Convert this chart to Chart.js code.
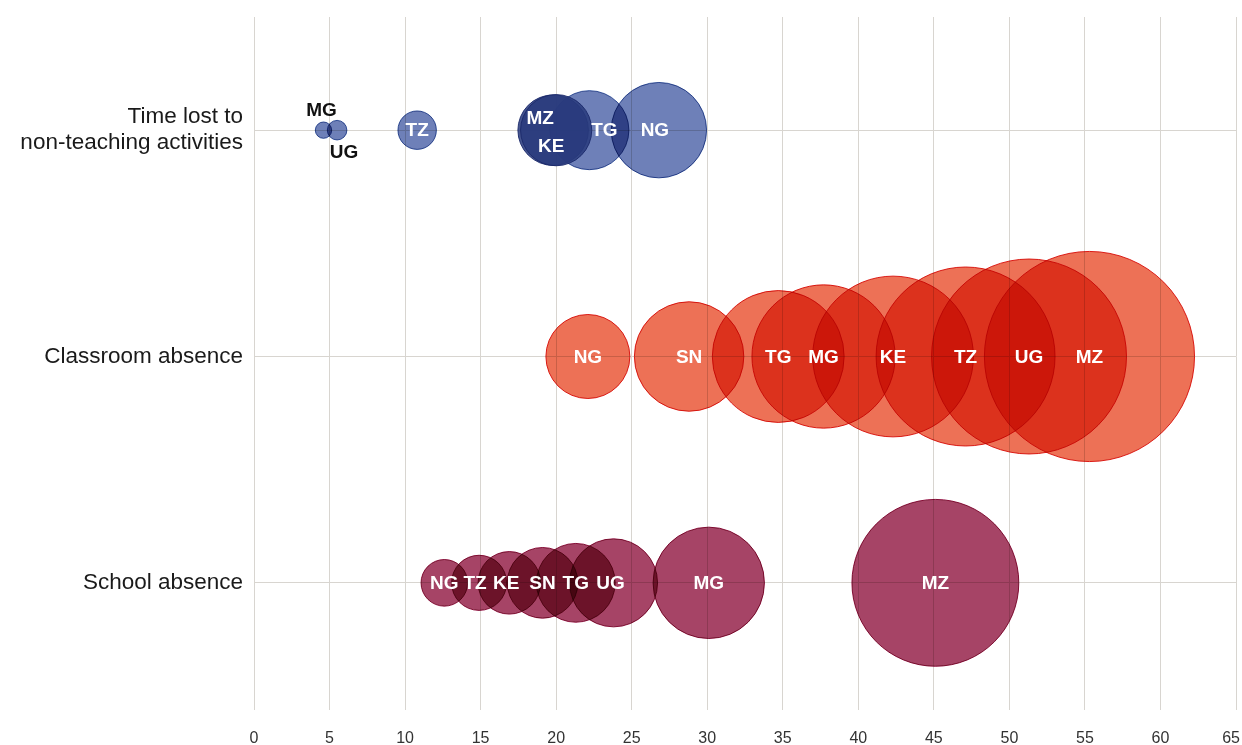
<!DOCTYPE html>
<html><head><meta charset="utf-8">
<script src="https://cdn.jsdelivr.net/npm/chart.js@4/dist/chart.umd.min.js"></script>
<style>html,body{margin:0;padding:0;background:#fff;}#wrap{width:1242px;height:745px;}</style>
</head><body><div id="wrap"><canvas id="c" width="1242" height="745"></canvas></div>
<script>
// ---- data ----
const rowLabels = [["Time lost to", "non-teaching activities"], "Classroom absence", "School absence"];
const xTickValues = [0, 5, 10, 15, 20, 25, 30, 35, 40, 45, 50, 55, 60, 65];
const timeLostCountries = ["MG", "UG", "TZ", "TG", "NG", "MZ", "KE"];
const timeLostValues = [4.6, 5.5, 10.8, 22.2, 26.8, 19.8, 20.0];
const classroomCountries = ["NG", "SN", "TG", "MG", "KE", "TZ", "UG", "MZ"];
const classroomValues = [22.1, 28.8, 34.7, 37.7, 42.3, 47.1, 51.3, 55.3];
const schoolCountries = ["NG", "TZ", "KE", "SN", "TG", "UG", "MG", "MZ"];
const schoolValues = [12.6, 14.9, 16.9, 19.1, 21.3, 23.8, 30.1, 45.1];

// ---- styling ----
const countriesByRow = [timeLostCountries, classroomCountries, schoolCountries];
const valuesByRow = [timeLostValues, classroomValues, schoolValues];
const fills = ['#6e80b8', '#ed7156', '#a64466'];
const borders = ['#3d5fa8', '#e3221c', '#9b1448'];
const bubbleScale = [1.78, 1.9, 1.85];       // radius grows linearly with the value
const overlayNames = {0: ['MZ', 'KE']};      // coinciding bubbles drawn on top, near-opaque
const overlayFill = 'rgba(41,58,125,0.86)';
const overlayBorder = 'rgba(25,40,105,0.9)';
const labelStyle = {
  '0:MG': {dx: -2, dy: -20, color: '#111'},
  '0:UG': {dx: 7, dy: 22, color: '#111'},
  '0:MZ': {dx: -13, dy: -12, color: '#fff'},
  '0:KE': {dx: -5, dy: 16, color: '#fff'},
  '0:TG': {dx: 15, dy: 0, color: '#fff'},
  '0:NG': {dx: -4, dy: 0, color: '#fff'},
  '2:TZ': {dx: -4, dy: 0, color: '#fff'},
  '2:KE': {dx: -3, dy: 0, color: '#fff'},
  '2:UG': {dx: -3, dy: 0, color: '#fff'}
};
const gridColor = '#d8d5d0';

const datasets = [];
valuesByRow.forEach((vals, ri) => {
  const names = countriesByRow[ri];
  const ov = overlayNames[ri] || [];
  const base = [], top = [];
  vals.forEach((v, i) => {
    const pt = {x: v, y: ri + 1, r: v * bubbleScale[ri], name: names[i], row: ri};
    (ov.includes(names[i]) ? top : base).push(pt);
  });
  datasets.push({data: base, backgroundColor: fills[ri], borderColor: borders[ri], borderWidth: 1, clip: false, blend: 'multiply'});
  if (top.length) datasets.push({data: top, backgroundColor: overlayFill, borderColor: overlayBorder, borderWidth: 1, clip: false, blend: 'source-over', order: -1});
});

const bubblePlugin = {
  id: 'bubbleLook',
  beforeDraw(chart) {
    const c = chart.ctx; c.save(); c.fillStyle = '#fff'; c.fillRect(0, 0, chart.width, chart.height); c.restore();
  },
  beforeDatasetDraw(chart, args) {
    chart.ctx.save();
    chart.ctx.globalCompositeOperation = chart.data.datasets[args.index].blend || 'source-over';
  },
  afterDatasetDraw(chart) {
    chart.ctx.restore();
  },
  afterDatasetsDraw(chart) {
    const c = chart.ctx;
    c.save();
    c.globalCompositeOperation = 'source-over';
    c.font = 'bold 19px "Liberation Sans", Arial, sans-serif';
    c.textAlign = 'center';
    c.textBaseline = 'middle';
    chart.data.datasets.forEach((ds, di) => {
      const meta = chart.getDatasetMeta(di);
      meta.data.forEach((el, i) => {
        const p = ds.data[i];
        const st = labelStyle[p.row + ':' + p.name] || {dx: 0, dy: 0, color: '#fff'};
        c.fillStyle = st.color;
        c.fillText(p.name, el.x + st.dx, el.y + st.dy + 1);
      });
    });
    // x tick labels (kept inside the canvas at the right edge)
    const xs = chart.scales.x;
    c.font = '16px "Liberation Sans Narrow", "Liberation Sans", Arial, sans-serif';
    c.fillStyle = '#333';
    xTickValues.forEach(v => {
      const t = String(v);
      const w = c.measureText(t).width;
      const px = Math.min(xs.getPixelForValue(v), chart.width - 2 - w / 2);
      c.fillText(t, px, 739);
    });
    c.restore();
  }
};

new Chart(document.getElementById('c'), {
  type: 'bubble',
  data: {datasets},
  plugins: [bubblePlugin],
  options: {
    responsive: false,
    animation: false,
    events: [],
    devicePixelRatio: 1,
    layout: {padding: {top: 17, right: 6, left: 0, bottom: 0}, autoPadding: false},
    plugins: {legend: {display: false}, tooltip: {enabled: false}},
    scales: {
      x: {
        type: 'linear', min: 0, max: 65,
        afterBuildTicks: (s) => { s.ticks = xTickValues.map(v => ({value: v})); },
        afterFit: (s) => { s.height = 49; s.paddingLeft = 0; s.paddingRight = 0; },
        grid: {color: gridColor, lineWidth: 1, drawTicks: true, tickLength: 14, tickColor: gridColor},
        border: {display: false},
        ticks: {display: false}
      },
      y: {
        type: 'linear', min: 0.5, max: 3.5, reverse: true,
        afterBuildTicks: (s) => { s.ticks = rowLabels.map((_, i) => ({value: i + 1})); },
        afterFit: (s) => { s.width = 254; s.paddingTop = 0; s.paddingBottom = 0; },
        grid: {color: gridColor, lineWidth: 1, drawTicks: false},
        border: {display: false},
        ticks: {
          color: '#1a1a1a', padding: 11,
          font: {family: '"Liberation Sans", Arial, sans-serif', size: 22.5, lineHeight: 1.16},
          callback: (v) => rowLabels[Math.round(v) - 1]
        }
      }
    }
  }
});
</script></body></html>
